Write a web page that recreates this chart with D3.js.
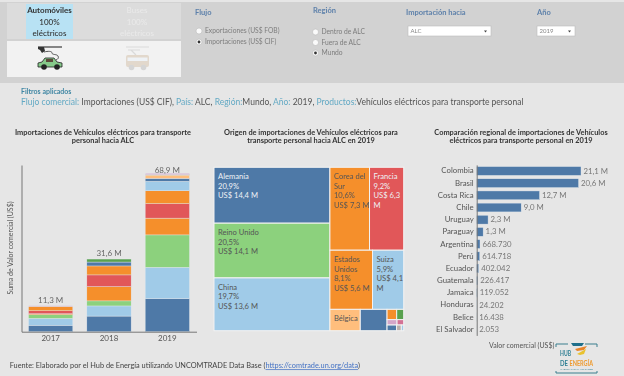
<!DOCTYPE html>
<html lang="es"><head><meta charset="utf-8">
<script src="https://cdn.jsdelivr.net/npm/d3@7/dist/d3.min.js"></script>
<style>
html,body{margin:0;padding:0;background:#e6e6e6;overflow:hidden}
svg{display:block;filter:blur(0.4px)}
text{font-family:Lato,"Open Sans",sans-serif}
</style></head><body><svg id="c" width="624" height="376"></svg>
<script>
// ---------- data ----------
const years = ["2017","2018","2019"];
const yearTotals = ["11,3 M","31,6 M","68,9 M"];
const segBlue      = [2.8, 6.8, 14.4];
const segLightBlue = [3.0, 4.4, 13.6];
const segGreen     = [1.6, 2.2, 14.1];
const segOrangeA   = [0.4, 6.2, 7.3];
const segRed       = [1.3, 5.1, 6.3];
const segOrangeB   = [1.9, 3.9, 5.6];
const segSuiza     = [0, 0, 4.1];
const segBlueB     = [0, 1.7, 1.27];
const segBelgica   = [0, 0, 1.44];
const segDarkGreen = [0, 1.3, 0.16];
const segPink      = [0.3, 0, 0.6];

const tmMain = ["Alemania","Reino Unido","China"];
const tmMainValues = [14.4,14.1,13.6];
const tmTop = ["Corea del Sur","Francia"];
const tmTopValues = [7.3,6.3];
const tmMid = ["Estados Unidos","Suiza"];
const tmMidValues = [5.6,4.1];
const tmLow = ["Bélgica","Otro A"];
const tmLowValues = [1.44,1.27];
const tmTiny1 = ["Otro B","Otro C"];
const tmTiny1Values = [0.22,0.16];
const tmTiny2 = ["Otro D","Otro E"];
const tmTiny2Values = [0.12,0.08];
const tmTiny3 = ["Otro F","Otro G","Otro H"];
const tmTiny3Values = [0.12,0.06,0.03];
const tmLabelLines = {
 "Alemania":["Alemania","20,9%","US$ 14,4 M"],
 "Reino Unido":["Reino Unido","20,5%","US$ 14,1 M"],
 "China":["China","19,7%","US$ 13,6 M"],
 "Corea del Sur":["Corea del","Sur","10,6%","US$ 7,3 M"],
 "Francia":["Francia","9,2%","US$ 6,3","M"],
 "Estados Unidos":["Estados","Unidos","8,1%","US$ 5,6 M"],
 "Suiza":["Suiza","5,9%","US$ 4,1","M"],
 "Bélgica":["Bélgica"]
};
const countries = ["Colombia","Brasil","Costa Rica","Chile","Uruguay","Paraguay","Argentina","Perú","Ecuador","Guatemala","Jamaica","Honduras","Belice","El Salvador"];
const countryValues = [21100000,20600000,12700000,9000000,2300000,1300000,668730,614718,402042,226417,119052,24202,16438,2053];
const countryLabels = ["21,1 M","20,6 M","12,7 M","9,0 M","2,3 M","1,3 M","668.730","614.718","402.042","226.417","119.052","24.202","16.438","2.053"];

// ---------- palette ----------
const C={blue:"#4e79a7",lb:"#a0cbe8",green:"#8cd17d",orange:"#f58f2b",red:"#e15759",po:"#ffbe7d",dg:"#59a14f",pink:"#d4a6c8",mag:"#d37295",grey:"#bab0ac"};
const segs=[[segBlue,C.blue],[segLightBlue,C.lb],[segGreen,C.green],[segOrangeA,C.orange],[segRed,C.red],[segOrangeB,C.orange],[segSuiza,C.lb],[segBlueB,C.blue],[segBelgica,C.po],[segDarkGreen,C.dg],[segPink,C.pink]];
const tmColor={"Alemania":C.blue,"Reino Unido":C.green,"China":C.lb,"Corea del Sur":C.orange,"Francia":C.red,"Estados Unidos":C.orange,"Suiza":C.lb,"Bélgica":C.po,"Otro A":C.blue,"Otro B":C.orange,"Otro C":C.dg,"Otro D":C.pink,"Otro E":C.mag,"Otro F":C.blue,"Otro G":C.grey,"Otro H":C.lb};
const svg=d3.select("#c");
const T=(x,y,s,o={})=>{const t=svg.append("text").attr("x",x).attr("y",y).text(s)
 .attr("font-size",o.size||8).attr("fill",o.fill||"#555").attr("text-anchor",o.anchor||"start")
 .attr("font-weight",o.weight||400);return t;};

// ---------- header ----------
svg.append("rect").attr("width",624).attr("height",83).attr("fill","#d2d2d2");
svg.append("rect").attr("width",624).attr("height",2).attr("fill","#e6e6e6");
svg.append("rect").attr("x",7).attr("y",3).attr("width",174).attr("height",36).attr("fill","#dcdcdc");
svg.append("rect").attr("x",7).attr("y",41).attr("width",174).attr("height",36).attr("fill","#f2f2f2");
svg.append("rect").attr("x",26).attr("y",4).attr("width",47).attr("height",35).attr("fill","#b8e2f4");
[["Automóviles",12.5],["100%",24.5],["eléctricos",36]].forEach(([s,y],i)=>T(49.5,y,s,{size:8,anchor:"middle",fill:"#333",weight:i==0?700:500}));
[["Buses",12.5],["100%",24.5],["eléctricos",36]].forEach(([s,y])=>T(137,y,s,{size:8,anchor:"middle",fill:"#e9e9e9",weight:500}));

// car icon
const car=svg.append("g");
car.append("path").attr("d","M38 47H62").attr("stroke","#555").attr("stroke-width",1.4);
car.append("path").attr("d","M38 47h6l1 4-3 2-2-3-2-1z").attr("fill","#333");
car.append("path").attr("d","M44 52C48 51 52 51 52 53C52 55 57 54 58 56C59 58 58 59 56 60").attr("fill","none").attr("stroke","#444").attr("stroke-width",.9);
car.append("path").attr("d","M38 63l4-1 3-4h9l3 4 5 1v4H38z").attr("fill","#86c98a").attr("stroke","#222").attr("stroke-width",.8);
car.append("rect").attr("x",46).attr("y",59).attr("width",7).attr("height",3).attr("fill","#5b4a3a");
car.append("circle").attr("cx",44).attr("cy",67).attr("r",2.8).attr("fill","#222");
car.append("circle").attr("cx",57).attr("cy",67).attr("r",2.8).attr("fill","#222");
// bus icon
const bus=svg.append("g");
bus.append("path").attr("d","M126 47H149M128 50H140M131 50L136 55").attr("fill","none").attr("stroke","#dadada").attr("stroke-width",1.2);
bus.append("rect").attr("x",126).attr("y",55).attr("width",23).attr("height",12).attr("rx",2).attr("fill","#e2d8cc");
bus.append("rect").attr("x",127.5).attr("y",57.5).attr("width",20).attr("height",3.5).attr("fill","#eef2f6");
bus.append("circle").attr("cx",131.5).attr("cy",67.5).attr("r",2.8).attr("fill","#d5d5d5");
bus.append("circle").attr("cx",143.5).attr("cy",67.5).attr("r",2.8).attr("fill","#d5d5d5");

const hd={size:7.5,fill:"#5d80aa",weight:700};
T(195,15,"Flujo",hd);T(313,12.5,"Región",hd);T(406,14.5,"Importación hacia",hd);T(537,14.5,"Año",hd);
const radio=(x,y,s,on)=>{svg.append("circle").attr("cx",x).attr("cy",y).attr("r",3).attr("fill","#fafafa").attr("stroke","#b0b0b0").attr("stroke-width",.5);
 if(on)svg.append("circle").attr("cx",x).attr("cy",y).attr("r",1.4).attr("fill","#333");
 T(x+6,y+2.3,s,{size:6.7,fill:"#7d7d7d"});};
radio(199,31,"Exportaciones (US$ FOB)",false);radio(199,42,"Importaciones (US$ CIF)",true);
radio(315.5,32,"Dentro de ALC",false);radio(315.5,42.5,"Fuera de ALC",false);radio(315.5,53,"Mundo",true);
const dd=(x,w,s)=>{svg.append("rect").attr("x",x).attr("y",26).attr("width",w).attr("height",10).attr("fill","#fff").attr("stroke","#bdbdbd").attr("stroke-width",.6);
 T(x+2.5,33.3,s,{size:6,fill:"#888"});
 svg.append("path").attr("d",`M${x+w-7} 30.5h3l-1.5 2z`).attr("fill","#444");};
dd(408,83,"ALC");dd(537,38,"2019");

// filters
T(21,93.5,"Filtros aplicados",{size:7,weight:700,fill:"#3f86a3"});
const teal="#63a9c4",val="#555";
const fl=svg.append("text").attr("x",21).attr("y",104.5).attr("font-size",8.5);
[["Flujo comercial: ",teal],["Importaciones (US$ CIF), ",val],["País: ",teal],["ALC, ",val],["Región:",teal],["Mundo, ",val],["Año: ",teal],["2019, ",val],["Productos:",teal],["Vehículos eléctricos para transporte personal",val]]
 .forEach(([s,c])=>fl.append("tspan").attr("fill",c).text(s));

// titles
const tt={size:7.4,weight:700,anchor:"middle",fill:"#333"};
T(103,134.8,"Importaciones de Vehículos eléctricos para transporte",tt);
T(103,143.2,"personal hacia ALC",tt);
T(311,134.8,"Origen de importaciones de Vehículos eléctricos para",tt);
T(311,143.2,"transporte personal hacia ALC en 2019",tt);
T(521,134.8,"Comparación regional de importaciones de Vehículos",tt);
T(521,143.2,"eléctricos para transporte personal en 2019",tt);

// ---------- stacked bars ----------
const x0=d3.scaleBand().domain(years).range([21.5,196.5]).paddingInner(.24).paddingOuter(.12);
const y0=d3.scaleLinear().domain([0,72.5]).range([331.7,165]);
const stackRows=years.map((y,i)=>{const r={year:y};segs.forEach((s,k)=>r["s"+k]=s[0][i]);return r;});
const stacked=d3.stack().keys(segs.map((s,k)=>"s"+k))(stackRows);
const bw=44.3,bc=d=>x0(d)+x0.bandwidth()/2;
svg.append("g").selectAll("g").data(stacked).join("g").attr("fill",(d,i)=>segs[i][1])
 .selectAll("rect").data(d=>d.filter(v=>v[1]>v[0])).join("rect")
 .attr("x",d=>bc(d.data.year)-bw/2).attr("width",bw)
 .attr("y",d=>y0(d[1])).attr("height",d=>y0(d[0])-y0(d[1]))
 .attr("stroke","#e3e8ed").attr("stroke-width",.4);
const ax0=svg.append("g").attr("transform","translate(0,331.7)").call(d3.axisBottom(x0).tickSize(0).tickPadding(4));
ax0.select(".domain").attr("stroke","#777").attr("stroke-width",1);
ax0.selectAll("text").attr("font-size",8).attr("fill","#555").attr("font-family","Lato");
const ay0=svg.append("g").attr("transform","translate(21.5,0)").call(d3.axisLeft(y0).tickValues([]).tickSize(0));
ay0.select(".domain").attr("stroke","#777").attr("stroke-width",1);
years.forEach((y,i)=>{const top=d3.sum(segs,s=>s[0][i]);T(bc(y),Math.max(y0(top)-3,173.3),yearTotals[i],{size:8,anchor:"middle",fill:"#666"});});
T(0,0,"Suma de Valor comercial (US$)",{size:7,anchor:"middle",fill:"#555"}).attr("transform","translate(12.5,248) rotate(-90)");

// ---------- treemap ----------
const leaves=(n,v)=>n.map((name,i)=>({name,value:v[i]}));
const tree={name:"root",children:[
 {name:"izq",children:leaves(tmMain,tmMainValues)},
 {name:"der",children:[
  {name:"a",children:leaves(tmTop,tmTopValues)},
  {name:"b",children:leaves(tmMid,tmMidValues)},
  {name:"c",children:[...leaves(tmLow,tmLowValues),{name:"tiny",children:[
    {name:"t1",children:leaves(tmTiny1,tmTiny1Values)},
    {name:"t2",children:leaves(tmTiny2,tmTiny2Values)},
    {name:"t3",children:leaves(tmTiny3,tmTiny3Values)}]}]}
 ]}]};
const rootH=d3.hierarchy(tree).sum(d=>d.value||0);
d3.treemap().size([189.7,163.4]).tile(d3.treemapSliceDice).round(false)(rootH);
const tm=svg.append("g").attr("transform","translate(214,167.3)");
const lf=tm.selectAll("g").data(rootH.leaves()).join("g").attr("transform",d=>`translate(${d.x0},${d.y0})`);
lf.append("rect").attr("width",d=>d.x1-d.x0).attr("height",d=>d.y1-d.y0)
 .attr("fill",d=>tmColor[d.data.name]).attr("stroke","#f2f2f2").attr("stroke-width",1);
lf.each(function(d){const ls=tmLabelLines[d.data.name];if(!ls)return;
 const n=d.data.name;
 const fill=n=="Alemania"||n=="Francia"?"#eef2f6":"#555";
 ls.forEach((s,i)=>d3.select(this).append("text").attr("x",4).attr("y",12+i*9.5).attr("font-size",7.6).attr("fill",fill).text(s));});

// ---------- horizontal bars ----------
const x2=d3.scaleLinear().domain([0,21100000]).range([0,104.3]);
const y2=d3.scaleBand().domain(countries).range([164.9,335.4]).paddingInner(.28).paddingOuter(.14);
const g2=svg.append("g").attr("transform","translate(476.7,0)");
g2.selectAll("rect").data(countries).join("rect").attr("x",0).attr("y",d=>y2(d)).attr("height",y2.bandwidth())
 .attr("width",(d,i)=>x2(countryValues[i])).attr("fill",C.blue).attr("stroke","#dfe5ec").attr("stroke-width",.4);
const ay2=g2.append("g").call(d3.axisLeft(y2).tickSize(0).tickPadding(3));
ay2.select(".domain").attr("stroke","#777").attr("stroke-width",1);
ay2.selectAll("text").attr("font-size",7.8).attr("fill","#555").attr("font-family","Lato");
g2.selectAll("text.v").data(countries).join("text").attr("class","v")
 .attr("x",(d,i)=>x2(countryValues[i])+2.5).attr("y",d=>y2(d)+y2.bandwidth()/2+2.6)
 .attr("font-size",7.8).attr("fill","#777").text((d,i)=>countryLabels[i]);
T(489,347.5,"Valor comercial (US$)",{size:7,fill:"#555"});

// ---------- footer ----------
const ft=svg.append("text").attr("x",9.7).attr("y",368.3).attr("font-size",7.35).attr("fill","#444");
ft.append("tspan").text("Fuente: Elaborado por el Hub de Energía utilizando UNCOMTRADE Data Base (");
ft.append("tspan").text("https://comtrade.un.org/data").attr("fill","#4472c4").attr("text-decoration","underline");
ft.append("tspan").text(")");

// ---------- logo ----------
const lg=svg.append("g");
lg.append("path").attr("d","M556 347V344H568M585 344H597V347M556 371V373H597V371").attr("fill","none").attr("stroke","#3b7f8e").attr("stroke-width",1);
lg.append("path").attr("d","M571 343h13l-2 3h-9z").attr("fill","#1f6f8b");
lg.append("path").attr("d","M575 349l12-3-3 4-7 1z").attr("fill","#e8842a");
lg.append("path").attr("d","M577 354l9-5-2 5-4 1z").attr("fill","#e9c22e");
T(560,356.3,"HUB",{size:8,weight:700,fill:"#2f7f93"}).attr("textLength",11).attr("lengthAdjust","spacingAndGlyphs");
T(560,365.5,"DE",{size:8,weight:700,fill:"#2f7f93"}).attr("textLength",8).attr("lengthAdjust","spacingAndGlyphs");
T(569.5,365.5,"ENERGÍA",{size:8,weight:700,fill:"#ee9a2e"}).attr("textLength",23.5).attr("lengthAdjust","spacingAndGlyphs");
T(560,370,"AMÉRICA LATINA Y EL CARIBE",{size:2.4,fill:"#3b7f8e"}).attr("textLength",33);
</script></body></html>
